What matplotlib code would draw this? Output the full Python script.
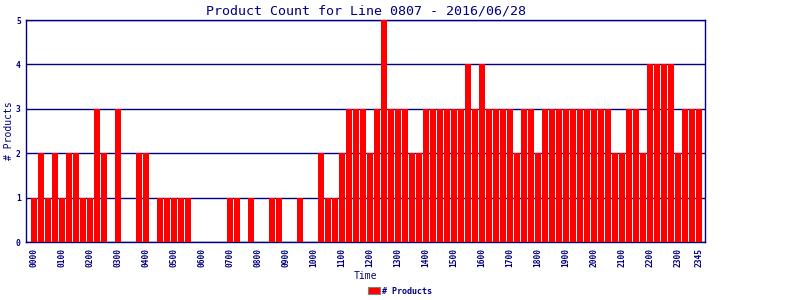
import numpy as np
import matplotlib
matplotlib.use("Agg")
import matplotlib.pyplot as plt
from matplotlib.patches import Patch

# 15-minute slots, 0000 .. 2345
counts = [1, 2, 1, 2, 1, 2, 2, 1, 1, 3, 2, 0, 3, 0, 0, 2,
          2, 0, 1, 1, 1, 1, 1, 0, 0, 0, 0, 0, 1, 1, 0, 1,
          0, 0, 1, 1, 0, 0, 1, 0, 0, 2, 1, 1, 2, 3, 3, 3,
          2, 3, 5, 3, 3, 3, 2, 2, 3, 3, 3, 3, 3, 3, 4, 3,
          4, 3, 3, 3, 3, 2, 3, 3, 2, 3, 3, 3, 3, 3, 3, 3,
          3, 3, 3, 2, 2, 3, 3, 2, 4, 4, 4, 4, 2, 3, 3, 3]
slots = ["%02d%02d" % (h, m) for h in range(24) for m in (0, 15, 30, 45)]
tick_labels = [s for s in slots if s.endswith("00")] + ["2345"]
title = "Product Count for Line 0807 - 2016/06/28"

navy = "#000080"
mono = "DejaVu Sans Mono"

fig = plt.figure(figsize=(8, 3), dpi=100)
ax = fig.add_axes([0.033, 0.193, 0.848, 0.74])

x = np.arange(len(counts))
ax.bar(x, counts, width=0.86, color="#ff0000", zorder=3)

ax.set_xlim(-1.05, len(counts) - 0.15)
ax.set_ylim(0, 5)
ax.set_yticks(range(6))
ax.yaxis.grid(True, color=navy, linewidth=1.0, zorder=1)

ticks = [slots.index(t) for t in tick_labels]
ax.set_xticks(ticks)
ax.set_xticklabels(tick_labels, rotation=90, fontsize=5.7, family=mono,
                   fontweight="bold", color=navy)
for lab in ax.get_yticklabels():
    lab.set_fontsize(5.8)
    lab.set_family(mono)
    lab.set_fontweight("bold")
    lab.set_color(navy)
ax.tick_params(axis="both", length=0, pad=4)

for sp in ax.spines.values():
    sp.set_color(navy)
    sp.set_linewidth(1.0)

ax.set_title(title, fontsize=9.6, family=mono, color=navy, pad=4)
ax.set_ylabel("# Products", fontsize=7, family=mono, color=navy, labelpad=1.5)
ax.set_xlabel("Time", fontsize=7, family=mono, color=navy, labelpad=3)

handle = Patch(facecolor="#ff0000", edgecolor="#808080", linewidth=0.8)
fig.legend([handle], ["# Products"], loc="lower center", bbox_to_anchor=(0.5, -0.01),
           frameon=False, prop={"family": mono, "size": 6, "weight": "bold"},
           labelcolor=navy, handlelength=1.4, handleheight=1.0, handletextpad=0.3)

fig.savefig("out.png", dpi=100)
